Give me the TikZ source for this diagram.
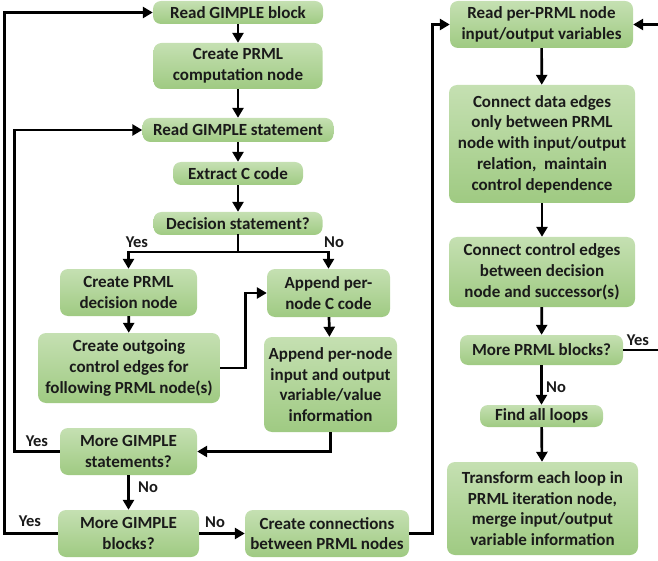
\documentclass[tikz,border=0pt]{standalone}
\usepackage{fontspec}
\setmainfont{Carlito}
\usepackage{xcolor}
\usetikzlibrary{arrows.meta,positioning,calc}
\definecolor{boxtop}{HTML}{C5E0B2}
\definecolor{boxbot}{HTML}{9FCA82}
\definecolor{ink}{HTML}{1A1A1A}

\begin{document}
\begin{tikzpicture}[
  x=1pt,y=-1pt,
  box/.style={rounded corners=8pt,align=center,inner sep=0pt,top color=boxtop,bottom color=boxbot,
    text=ink,font=\fontsize{17}{20.8}\selectfont\bfseries},
  lbl/.style={font=\fontsize{16.5}{19}\selectfont\bfseries,text=ink,inner sep=0pt},
  arr/.style={-{Triangle[length=10pt,width=11pt]},line width=2.7pt},
  ln/.style={line width=2.7pt,line cap=rect}
]
\useasboundingbox (0,0) rectangle (658,561);
% left column
\node[box,minimum width=170pt,minimum height=23pt] (rb) at (238,12.5) {Read GIMPLE block};
\node[box,minimum width=169pt,minimum height=46pt] (cn) at (238,66) {Create PRML\\computation node};
\node[box,minimum width=191pt,minimum height=24pt] (rs) at (238,130) {Read GIMPLE statement};
\node[box,minimum width=130pt,minimum height=23pt] (ex) at (238,173.5) {Extract C code};
\node[box,minimum width=169pt,minimum height=23pt] (ds) at (238,223.5) {Decision statement?};
\node[box,minimum width=137pt,minimum height=47pt] (dn) at (128.5,292.5) {Create PRML\\decision node};
\node[box,minimum width=123pt,minimum height=48pt] (ap) at (328.5,293) {Append per-\\node C code};
\node[box,minimum width=182pt,minimum height=70pt] (oe) at (129,368) {Create outgoing\\control edges for\\following PRML node(s)};
\node[box,minimum width=133pt,minimum height=95pt] (ai) at (330.5,384.5) {Append per-node\\input and output\\variable/value\\information};
\node[box,minimum width=137pt,minimum height=47pt] (ms) at (128.5,451.5) {More GIMPLE\\statements?};
\node[box,minimum width=141pt,minimum height=47pt] (mb) at (128.5,533.5) {More GIMPLE\\blocks?};
\node[box,minimum width=164pt,minimum height=47pt] (cc) at (327,533.5) {Create connections\\between PRML nodes};
% right column
\node[box,minimum width=183pt,minimum height=47pt] (rp) at (541.5,24.5) {Read per-PRML node\\input/output variables};
\node[box,minimum width=186pt,minimum height=118pt] (cd) at (542,144) {Connect data edges\\only between PRML\\node with input/output\\relation,\ \ maintain\\control dependence};
\node[box,minimum width=186pt,minimum height=70pt] (ce) at (542,272) {Connect control edges\\between decision\\node and successor(s)};
\node[box,minimum width=163pt,minimum height=30pt] (mp) at (541.5,350) {More PRML blocks?};
\node[box,minimum width=123pt,minimum height=22pt] (fl) at (541.5,416) {Find all loops};
\node[box,minimum width=191pt,minimum height=93pt] (tl) at (542.5,508.5) {Transform each loop in\\PRML iteration node,\\merge input/output\\variable information};
% branch labels
\node[lbl] (y1) at (137,242) {Yes};
\node[lbl] (n1) at (334,242) {No};
\node[lbl] (y2) at (37,441) {Yes};
\node[lbl] (n2) at (148,487) {No};
\node[lbl] (y3) at (30,521) {Yes};
\node[lbl] (n3) at (215,522) {No};
\node[lbl] (y4) at (638,340) {Yes};
\node[lbl] (n4) at (556,387) {No};
\coordinate (jn) at (238,252);
% connectors
\draw[arr] (rb) -- (cn);
\draw[arr] (cn) -- (rs);
\draw[arr] (rs) -- (ex);
\draw[arr] (ex) -- (ds);
\draw[ln] (ds) -- (jn);
\draw[arr] (jn) -| (dn);
\draw[arr] (jn) -| (ap);
\draw[arr] (dn) -- (oe);
\draw[arr] (oe.east) -- ++(25,0) |- (ap.west);
\draw[arr] (ap) -- (ai);
\draw[arr] (ai.south) |- (ms.east);
\draw[arr] (ms.west) -- ++(-45,0) |- (rs.west);
\draw[arr] (ms) -- (mb);
\draw[arr] (mb.west) -- ++(-53,0) |- (rb.west);
\draw[arr] (mb) -- (cc);
\draw[arr] (cc.east) -- ++(23,0) |- (rp.west);
\draw[arr] (rp) -- (cd);
\draw[arr] (cd) -- (ce);
\draw[arr] (ce) -- (mp);
\draw[arr] (mp) -- (fl);
\draw[arr] (fl) -- (tl);
\draw[arr] (mp.east) -- ++(50,0) |- (rp.east);
\end{tikzpicture}
\end{document}
